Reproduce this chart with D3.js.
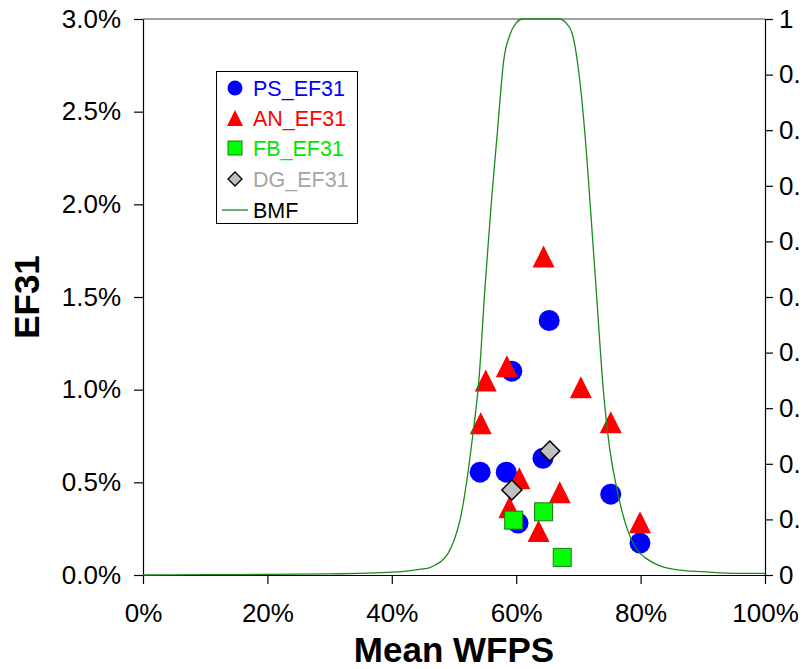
<!DOCTYPE html>
<html>
<head>
<meta charset="utf-8">
<script src="https://cdn.jsdelivr.net/npm/d3@7"></script>
<style>
  body { margin: 0; background: #fff; }
  svg { display: block; font-family: "Liberation Sans", Arial, sans-serif; }
</style>
</head>
<body>
<div class="container"></div>
<script>
// values
var psX = [0.542, 0.584, 0.593, 0.653, 0.643, 0.603, 0.752, 0.799];
var psY = [0.00555, 0.00555, 0.0110, 0.01373, 0.0063, 0.0028, 0.00436, 0.00172];

var anX = [0.644, 0.585, 0.551, 0.543, 0.704, 0.752, 0.605, 0.670, 0.589, 0.636, 0.799];
var anY = [0.01718, 0.01126, 0.0105, 0.00819, 0.01013, 0.00824, 0.00522, 0.00447, 0.00366, 0.00237, 0.00285];

var fbX = [0.596, 0.644, 0.674];
var fbY = [0.00296, 0.00341, 0.00095];

var dgX = [0.654, 0.593];
var dgY = [0.00669, 0.00459];

var bmfX = [0, 0.10, 0.20, 0.30, 0.35, 0.40, 0.43, 0.45, 0.46, 0.47, 0.48, 0.49, 0.50,
            0.51, 0.52, 0.53, 0.54, 0.55, 0.56, 0.57, 0.58, 0.59, 0.60, 0.61, 0.62,
            0.63, 0.64, 0.65, 0.66, 0.67, 0.68, 0.69, 0.70, 0.71, 0.72, 0.73, 0.74,
            0.75, 0.76, 0.77, 0.78, 0.79, 0.80, 0.81, 0.83, 0.85, 0.87, 0.90, 0.93, 0.96, 1.00];
var bmfY = [0, 0.0005, 0.001, 0.002, 0.003, 0.005, 0.008, 0.011, 0.013, 0.018, 0.025, 0.038, 0.062,
            0.10, 0.165, 0.25, 0.35, 0.52, 0.67, 0.80, 0.926, 0.972, 0.993, 1, 1,
            1, 1, 1, 1, 1, 0.993, 0.974, 0.91, 0.80, 0.65, 0.49, 0.334,
            0.23, 0.165, 0.115, 0.078, 0.053, 0.038, 0.029, 0.017, 0.011, 0.008, 0.006, 0.004, 0.003, 0.003];

var xTicks = [0, 0.2, 0.4, 0.6, 0.8, 1];
var yTicks = [0, 0.005, 0.01, 0.015, 0.02, 0.025, 0.03];
var y2Ticks = [0, 0.1, 0.2, 0.3, 0.4, 0.5, 0.6, 0.7, 0.8, 0.9, 1];

var legendNames = ["PS_EF31", "AN_EF31", "FB_EF31", "DG_EF31", "BMF"];
var legendColors = ["#0000ff", "#ff0000", "#00e600", "#a6a6a6", "#000000"];

// the reference is cropped on the right, so the svg stops short of the window edge
var width = 800, height = 669;
var plotL = 143, plotR = 765, plotT = 19, plotB = 575;

var svg = d3.select("body").select(".container")
    .append("svg")
    .attr("width", width)
    .attr("height", height);

var x = d3.scaleLinear().domain([0, 1]).range([plotL, plotR]);
var y = d3.scaleLinear().domain([0, 0.03]).range([plotB, plotT]);
var y2 = d3.scaleLinear().domain([0, 1]).range([plotB, plotT]);

// top frame line
svg.append("line")
    .attr("x1", plotL).attr("x2", plotR)
    .attr("y1", plotT).attr("y2", plotT)
    .attr("stroke", "#444").attr("stroke-width", 1.2);

function styleAxis(g) {
    g.select(".domain").attr("stroke", "#000").attr("stroke-width", 1.2);
    g.selectAll(".tick line").attr("stroke", "#000").attr("stroke-width", 1.2);
    g.selectAll(".tick text").attr("fill", "#000")
        .style("font-size", "26px")
        .style("font-family", "'Liberation Sans', Arial, sans-serif");
}

svg.append("g")
    .attr("transform", "translate(0," + plotB + ")")
    .call(d3.axisBottom(x).tickValues(xTicks).tickFormat(d3.format(".0%")).tickSizeInner(9).tickSizeOuter(0).tickPadding(20))
    .call(styleAxis);

svg.append("g")
    .attr("transform", "translate(" + plotL + ",0)")
    .call(d3.axisLeft(y).tickValues(yTicks).tickFormat(d3.format(".1%")).tickSizeInner(9).tickSizeOuter(0).tickPadding(13))
    .call(styleAxis);

svg.append("g")
    .attr("transform", "translate(" + plotR + ",0)")
    .call(d3.axisRight(y2).tickValues(y2Ticks)
        .tickFormat(function(d) { return d === 0 ? "0" : d === 1 ? "1" : d3.format(".1f")(d); })
        .tickSizeInner(8).tickSizeOuter(0).tickPadding(6))
    .call(styleAxis);

// axis titles
svg.append("text")
    .attr("x", (plotL + plotR) / 2)
    .attr("y", 662)
    .attr("text-anchor", "middle")
    .style("font-size", "35px")
    .style("font-weight", "bold")
    .text("Mean WFPS");

svg.append("text")
    .attr("transform", "translate(39," + ((plotT + plotB) / 2) + ") rotate(-90)")
    .attr("text-anchor", "middle")
    .style("font-size", "35px")
    .style("font-weight", "bold")
    .text("EF31");

function triPath(s) {
    return "M0," + (-s / 2) + "L" + (s / 2) + "," + (s / 2) + "L" + (-s / 2) + "," + (s / 2) + "Z";
}
function diaPath(s) {
    return "M0," + (-s) + "L" + s + ",0L0," + s + "L" + (-s) + ",0Z";
}

// PS circles
svg.selectAll(".ps")
    .data(d3.range(psX.length))
    .enter().append("circle")
    .attr("class", "ps")
    .attr("cx", function(i) { return x(psX[i]); })
    .attr("cy", function(i) { return y(psY[i]); })
    .attr("r", 10.5)
    .attr("fill", "#0000ff");

// AN triangles
svg.selectAll(".an")
    .data(d3.range(anX.length))
    .enter().append("path")
    .attr("class", "an")
    .attr("transform", function(i) { return "translate(" + x(anX[i]) + "," + y(anY[i]) + ")"; })
    .attr("d", triPath(22))
    .attr("fill", "#ff0000");

// FB squares
svg.selectAll(".fb")
    .data(d3.range(fbX.length))
    .enter().append("rect")
    .attr("class", "fb")
    .attr("x", function(i) { return x(fbX[i]) - 9; })
    .attr("y", function(i) { return y(fbY[i]) - 9; })
    .attr("width", 18)
    .attr("height", 18)
    .attr("fill", "#00ff00")
    .attr("stroke", "#1a7a1a")
    .attr("stroke-width", 1);

// DG diamonds
svg.selectAll(".dg")
    .data(d3.range(dgX.length))
    .enter().append("path")
    .attr("class", "dg")
    .attr("transform", function(i) { return "translate(" + x(dgX[i]) + "," + y(dgY[i]) + ")"; })
    .attr("d", diaPath(10))
    .attr("fill", "#c0c0c0")
    .attr("stroke", "#000")
    .attr("stroke-width", 1.5);

// BMF line on the right axis
var line = d3.line()
    .x(function(i) { return x(bmfX[i]); })
    .y(function(i) { return y2(bmfY[i]); })
    .curve(d3.curveMonotoneX);

svg.append("path")
    .datum(d3.range(bmfX.length))
    .attr("fill", "none")
    .attr("stroke", "#1a8a1a")
    .attr("stroke-width", 1.3)
    .attr("d", line);

// legend
var lg = svg.append("g");
lg.append("rect")
    .attr("x", 216.5).attr("y", 71.5)
    .attr("width", 141).attr("height", 152)
    .attr("fill", "#fff")
    .attr("stroke", "#000")
    .attr("stroke-width", 1);

var rowY = [88, 118, 148, 179, 210];
var symX = 235;

lg.append("circle").attr("cx", symX).attr("cy", rowY[0]).attr("r", 7.5).attr("fill", "#0000ff");
lg.append("path").attr("transform", "translate(" + symX + "," + rowY[1] + ")").attr("d", triPath(16)).attr("fill", "#ff0000");
lg.append("rect").attr("x", symX - 7).attr("y", rowY[2] - 7).attr("width", 14).attr("height", 14)
    .attr("fill", "#00ff00").attr("stroke", "#1a7a1a");
lg.append("path").attr("transform", "translate(" + symX + "," + rowY[3] + ")").attr("d", diaPath(7))
    .attr("fill", "#c0c0c0").attr("stroke", "#000").attr("stroke-width", 1.3);
lg.append("line").attr("x1", 222).attr("x2", 248).attr("y1", rowY[4]).attr("y2", rowY[4])
    .attr("stroke", "#1a8a1a").attr("stroke-width", 1.3);

lg.selectAll(".lt")
    .data(legendNames)
    .enter().append("text")
    .attr("class", "lt")
    .attr("x", 253)
    .attr("y", function(d, i) { return rowY[i]; })
    .attr("dy", "0.36em")
    .style("font-size", "21.5px")
    .attr("fill", function(d, i) { return legendColors[i]; })
    .text(function(d) { return d; });
</script>
</body>
</html>
